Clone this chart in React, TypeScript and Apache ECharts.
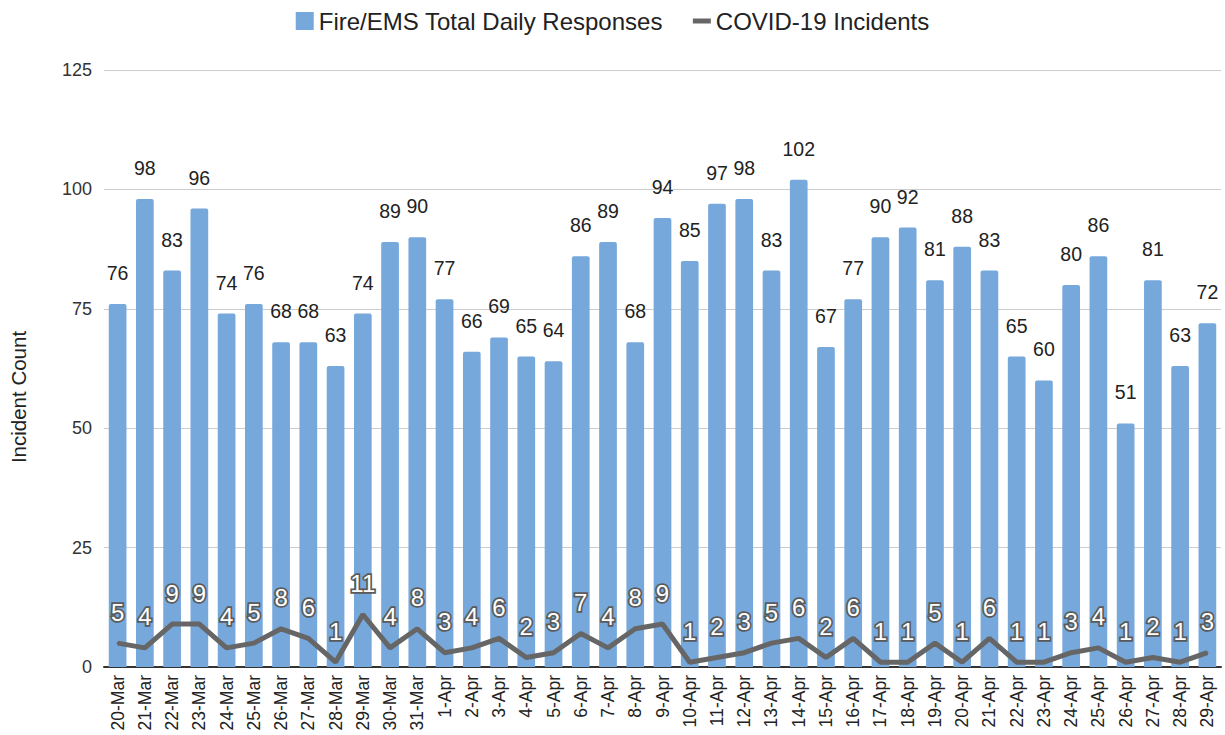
import React, { useEffect, useRef } from "react";
import * as echarts from "echarts";

const categories = [
  "20-Mar", "21-Mar", "22-Mar", "23-Mar", "24-Mar", "25-Mar", "26-Mar", "27-Mar", "28-Mar", "29-Mar", "30-Mar", "31-Mar",
  "1-Apr", "2-Apr", "3-Apr", "4-Apr", "5-Apr", "6-Apr", "7-Apr", "8-Apr", "9-Apr", "10-Apr", "11-Apr", "12-Apr",
  "13-Apr", "14-Apr", "15-Apr", "16-Apr", "17-Apr", "18-Apr", "19-Apr", "20-Apr", "21-Apr", "22-Apr", "23-Apr",
  "24-Apr", "25-Apr", "26-Apr", "27-Apr", "28-Apr", "29-Apr",
];

const totalResponses = [
  76, 98, 83, 96, 74, 76, 68, 68, 63, 74, 89, 90,
  77, 66, 69, 65, 64, 86, 89, 68, 94, 85, 97, 98,
  83, 102, 67, 77, 90, 92, 81, 88, 83, 65, 60,
  80, 86, 51, 81, 63, 72,
];

const covidIncidents = [
  5, 4, 9, 9, 4, 5, 8, 6, 1, 11, 4, 8,
  3, 4, 6, 2, 3, 7, 4, 8, 9, 1, 2, 3,
  5, 6, 2, 6, 1, 1, 5, 1, 6, 1, 1,
  3, 4, 1, 2, 1, 3,
];

const yTicks = [0, 25, 50, 75, 100, 125];
const yTitle = "Incident Count";

export default function App() {
  const ref = useRef<HTMLDivElement>(null);

  useEffect(() => {
    if (!ref.current) return;
    const chart = echarts.init(ref.current, undefined, { renderer: "svg" });
    chart.setOption({
      animation: false,
      textStyle: { fontFamily: "Arial, 'Liberation Sans', sans-serif" },
      legend: {
        top: 4,
        left: "center",
        itemGap: 30,
        itemWidth: 18,
        itemHeight: 18,
        symbolKeepAspect: true,
        textStyle: { fontSize: 24, color: "#222" },
        data: [
          { name: "Fire/EMS Total Daily Responses", icon: "rect" },
          { name: "COVID-19 Incidents", icon: "path://M0,0h18v5h-18z", itemStyle: { color: "#666" } },
        ],
      },
      graphic: [
        {
          type: "text",
          x: 18,
          y: 397,
          rotation: Math.PI / 2,
          style: {
            text: yTitle,
            fontSize: 20.5,
            fill: "#222",
            align: "center",
            verticalAlign: "middle",
            fontFamily: "Arial, 'Liberation Sans', sans-serif",
          },
        },
      ],
      grid: { left: 104, right: 4, top: 70, bottom: 68 },
      xAxis: {
        type: "category",
        data: categories,
        axisTick: { show: false },
        axisLine: { lineStyle: { color: "#333", width: 2 } },
        axisLabel: { rotate: 90, fontSize: 17.5, color: "#222", margin: 8, interval: 0 },
      },
      yAxis: {
        type: "value",
        min: yTicks[0],
        max: yTicks[yTicks.length - 1],
        interval: 25,
        axisLabel: { fontSize: 18, color: "#333", margin: 12 },
        splitLine: { lineStyle: { color: "#ccc", width: 1 } },
        axisLine: { show: false },
        axisTick: { show: false },
      },
      series: [
        {
          name: "Fire/EMS Total Daily Responses",
          type: "bar",
          data: totalResponses,
          barCategoryGap: "35%",
          itemStyle: { color: "#76a8dc", borderRadius: [2, 2, 0, 0] },
          label: {
            show: true,
            position: "top",
            distance: 21,
            fontSize: 19.5,
            color: "#222",
          },
        },
        {
          name: "COVID-19 Incidents",
          type: "line",
          data: covidIncidents,
          symbol: "circle",
          symbolSize: 2,
          showSymbol: true,
          lineStyle: { color: "#666", width: 5 },
          itemStyle: { color: "#666" },
          label: {
            show: true,
            position: "top",
            distance: 18,
            fontSize: 24,
            color: "#fff",
            textBorderColor: "#5a5a5a",
            textBorderWidth: 3.5,
          },
        },
      ],
    });
    return () => chart.dispose();
  }, []);

  return (
    <div
      ref={ref}
      style={{ position: "absolute", left: 0, top: 0, width: 1225, height: 735 }}
    />
  );
}
